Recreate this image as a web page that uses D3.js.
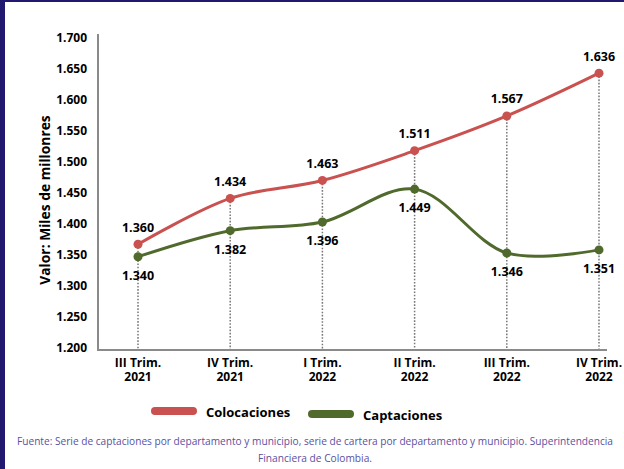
<!DOCTYPE html>
<html>
<head>
<meta charset="utf-8">
<script src="https://cdn.jsdelivr.net/npm/d3@7"></script>
<style>
  body { margin: 0; background: #fff; }
  svg { display: block; }
  text { font-family: "Open Sans", "DejaVu Sans", sans-serif; }
</style>
</head>
<body>
<svg id="graf"></svg>
<script>
let trimestres = ['III Trim.|2021', 'IV Trim.|2021', 'I Trim.|2022', 'II Trim.|2022', 'III Trim.|2022', 'IV Trim.|2022']
let colocaciones = [1.360, 1.434, 1.463, 1.511, 1.567, 1.636]
let captaciones = [1.340, 1.382, 1.396, 1.449, 1.346, 1.351]
let ticksY = [1.2, 1.25, 1.3, 1.35, 1.4, 1.45, 1.5, 1.55, 1.6, 1.65, 1.7]

let series = [
  { nombre: 'Colocaciones', valores: colocaciones, color: '#c9514f', arriba: true },
  { nombre: 'Captaciones', valores: captaciones, color: '#50692c', arriba: false }
]

function graficar() {
  let width = 624
  let height = 469
  let fmt = v => v.toFixed(3)

  let svg = d3.select('#graf')
    .attr('width', width)
    .attr('height', height)

  // marco morado
  svg.append('rect').attr('x', 0).attr('y', 0).attr('width', width).attr('height', 2).attr('fill', '#23186f')
  svg.append('rect').attr('x', 0).attr('y', 0).attr('width', 5).attr('height', height).attr('fill', '#23186f')

  let x = d3.scalePoint()
    .domain(trimestres)
    .range([138, 599])

  let y = d3.scaleLinear()
    .domain([1.2, 1.7])
    .range([343.5, 33.5])

  let ejeY = 98
  let ejeX = 350

  // lineas punteadas verticales
  svg.append('g').selectAll('line')
    .data(trimestres)
    .enter().append('line')
    .attr('x1', d => x(d)).attr('x2', d => x(d))
    .attr('y1', (d, i) => y(Math.max(colocaciones[i], captaciones[i])))
    .attr('y2', ejeX)
    .attr('stroke', '#777')
    .attr('stroke-width', 1.5)
    .attr('stroke-dasharray', '1.6,1.6')

  // eje y
  svg.append('line')
    .attr('x1', ejeY).attr('x2', ejeY)
    .attr('y1', 34).attr('y2', ejeX + 1)
    .attr('stroke', '#8a8a8a').attr('stroke-width', 2)

  svg.append('g').selectAll('text')
    .data(ticksY)
    .enter().append('text')
    .attr('x', 87)
    .attr('y', d => y(d) + 4.5)
    .attr('dy', '0.35em')
    .attr('text-anchor', 'end')
    .style('font-size', '12px')
    .style('font-weight', 'bold')
    .text(d => d.toFixed(3))

  // eje x
  svg.append('line')
    .attr('x1', ejeY).attr('x2', 607)
    .attr('y1', ejeX).attr('y2', ejeX)
    .attr('stroke', '#8a8a8a').attr('stroke-width', 2)

  let xl = svg.append('g').selectAll('text')
    .data(trimestres)
    .enter().append('text')
    .attr('text-anchor', 'middle')
    .style('font-size', '12px')
    .style('font-weight', 'bold')
  xl.append('tspan').attr('x', d => x(d)).attr('y', 367).text(d => d.split('|')[0])
  xl.append('tspan').attr('x', d => x(d)).attr('y', 381).text(d => d.split('|')[1])

  // titulo eje y
  svg.append('text')
    .attr('transform', 'translate(50, 200) rotate(-90)')
    .attr('text-anchor', 'middle')
    .style('font-size', '13.8px')
    .style('font-weight', 'bold')
    .text('Valor: Miles de millonres')

  let linea = d3.line()
    .x((d, i) => x(trimestres[i]))
    .y(d => y(d))
    .curve(d3.curveCatmullRom.alpha(0.5))

  series.forEach(s => {
    let g = svg.append('g')
    g.append('path')
      .attr('d', linea(s.valores))
      .attr('fill', 'none')
      .attr('stroke', s.color)
      .attr('stroke-width', 3)
    g.selectAll('circle')
      .data(s.valores)
      .enter().append('circle')
      .attr('cx', (d, i) => x(trimestres[i]))
      .attr('cy', d => y(d))
      .attr('r', 4.5)
      .attr('fill', s.color)
    g.selectAll('text')
      .data(s.valores)
      .enter().append('text')
      .attr('x', (d, i) => x(trimestres[i]))
      .attr('y', d => s.arriba ? y(d) - 17 : y(d) + 19)
      .attr('dy', '0.35em')
      .attr('text-anchor', 'middle')
      .style('font-size', '12.5px')
      .style('font-weight', 'bold')
      .text(d => fmt(d))
  })

  // leyenda
  let leyenda = [
    { s: series[0], x: 151, y: 411 },
    { s: series[1], x: 308, y: 414 }
  ]
  leyenda.forEach(l => {
    svg.append('rect')
      .attr('x', l.x).attr('y', l.y - 4)
      .attr('width', 46).attr('height', 8)
      .attr('rx', 4)
      .attr('fill', l.s.color)
    svg.append('text')
      .attr('x', l.x + 55).attr('y', l.y + 1)
      .attr('dy', '0.35em')
      .style('font-size', '13px')
      .style('font-weight', 'bold')
      .text(l.s.nombre)
  })

  // fuente
  svg.append('text')
    .attr('x', 17).attr('y', 441)
    .attr('dy', '0.35em')
    .attr('textLength', 596)
    .attr('lengthAdjust', 'spacingAndGlyphs')
    .style('font-family', '"Liberation Sans Narrow", "Open Sans", sans-serif')
    .style('font-size', '11.5px')
    .attr('fill', '#5b4f9f')
    .text('Fuente: Serie de captaciones por departamento y municipio, serie de cartera por departamento y municipio. Superintendencia')
  svg.append('text')
    .attr('x', 315).attr('y', 458)
    .attr('dy', '0.35em')
    .attr('text-anchor', 'middle')
    .attr('textLength', 114)
    .attr('lengthAdjust', 'spacingAndGlyphs')
    .style('font-family', '"Liberation Sans Narrow", "Open Sans", sans-serif')
    .style('font-size', '11.5px')
    .attr('fill', '#5b4f9f')
    .text('Financiera de Colombia.')
}

graficar()
</script>
</body>
</html>
